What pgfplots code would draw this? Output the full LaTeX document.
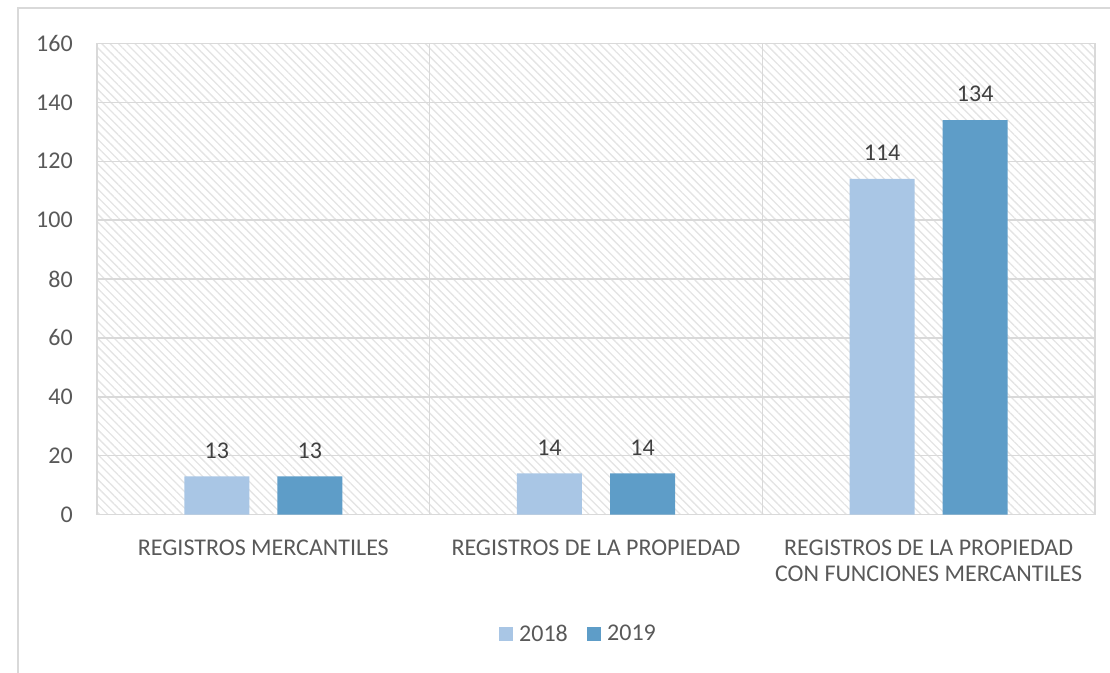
\documentclass[border=0pt]{standalone}
\usepackage{pgfplots}
\pgfplotsset{compat=1.18}
\usepackage{fontspec}
\setmainfont{Carlito}
\usetikzlibrary{patterns.meta}

\definecolor{light}{RGB}{169,198,229}
\definecolor{dark}{RGB}{94,157,200}
\definecolor{txt}{RGB}{89,89,89}
\definecolor{lbl}{RGB}{64,64,64}
\definecolor{gridc}{RGB}{217,217,217}
\definecolor{hatch}{RGB}{228,228,228}

\begin{document}
\begin{tikzpicture}
\useasboundingbox (0,0) rectangle (832.5pt,504pt);
\draw[gridc, line width=1.2pt] (13.5pt,-20pt) -- (13.5pt,498pt) -- (850pt,498pt);

\begin{axis}[
    at={(72.75pt,118.1pt)}, anchor=south west,
    scale only axis,
    width=748.5pt, height=353.3pt,
    ybar,
    bar width=48.75pt,
    xmin=-0.5, xmax=2.5,
    ymin=0, ymax=160,
    ytick={0,20,...,160},
    xtick={0,1,2},
    xticklabels={REGISTROS MERCANTILES, REGISTROS DE LA PROPIEDAD, {REGISTROS DE LA PROPIEDAD\\CON FUNCIONES MERCANTILES}},
    minor xtick={0.5,1.5},
    xminorgrids, ymajorgrids,
    grid style={gridc, line width=1.1pt},
    minor grid style={gridc, line width=1.1pt},
    axis line style={gridc, line width=1.1pt},
    major tick length=0pt, minor tick length=0pt,
    tick style={draw=none},
    axis background/.style={pattern={Lines[angle=-45,distance=4.4pt,line width=1pt]}, pattern color=hatch},
    ticklabel style={font=\fontsize{18}{19.5}\selectfont, text=txt},
    xticklabel style={align=center, inner sep=0pt, yshift=-18.5pt},
    yticklabel style={inner sep=0pt, xshift=-18pt},
    /pgf/number format/assume math mode=true,
    nodes near coords,
    every node near coord/.append style={font=\fontsize{18}{19.5}\selectfont, text=lbl, inner sep=0pt, yshift=13.3pt},
    legend style={at={(0.4825,-0.2535)}, anchor=center, draw=none, fill=none,
        font=\fontsize{18}{19.5}\selectfont, text=txt, legend columns=2,
        /tikz/every odd column/.append style={column sep=3pt},
        /tikz/every even column/.append style={column sep=12pt}},
    legend image code/.code={\fill[#1] (0pt,-5.25pt) rectangle (10.5pt,5.25pt);},
]
\addplot[fill=light, draw=none, bar shift=-34.9pt] coordinates {(0,13) (1,14) (2,114)};
\addlegendentry{2018}
\addplot[fill=dark, draw=none, bar shift=34.9pt] coordinates {(0,13) (1,14) (2,134)};
\addlegendentry{2019}
\end{axis}
\end{tikzpicture}
\end{document}
